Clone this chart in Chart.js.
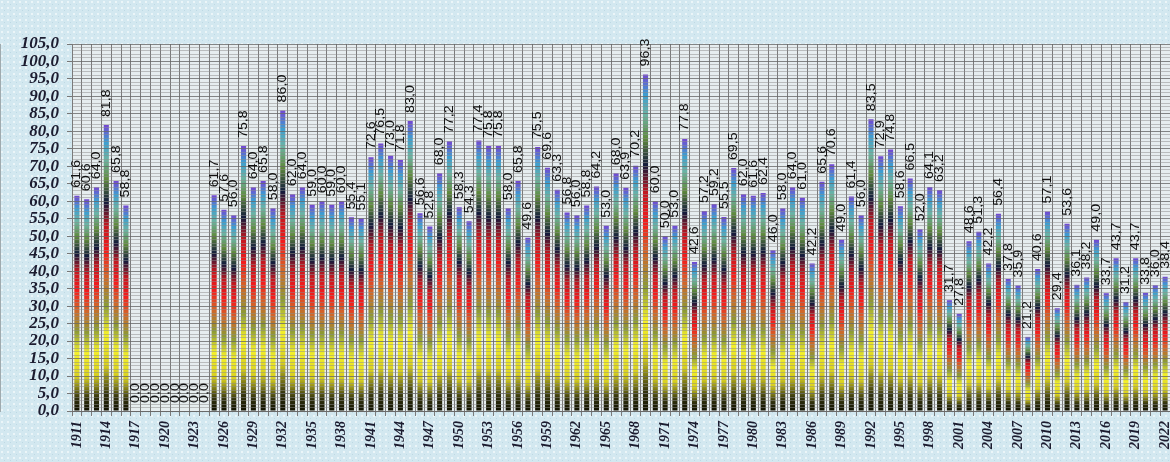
<!DOCTYPE html>
<html><head><meta charset="utf-8">
<script src="https://cdn.jsdelivr.net/npm/chart.js@4.4.1/dist/chart.umd.min.js"></script>
<style>
html,body{margin:0;padding:0;overflow:hidden;background:#d4e9f1;}
#wrap{width:1190px;height:462px;}
</style></head><body>
<div id="wrap"><canvas id="c" width="1190" height="462"></canvas></div>
<script>
const years = [1911,1912,1913,1914,1915,1916,1917,1918,1919,1920,1921,1922,1923,1924,1925,1926,1927,1928,1929,1930,
1931,1932,1933,1934,1935,1936,1937,1938,1939,1940,1941,1942,1943,1944,1945,1946,1947,1948,1949,1950,
1951,1952,1953,1954,1955,1956,1957,1958,1959,1960,1961,1962,1963,1964,1965,1966,1967,1968,1969,1970,
1971,1972,1973,1974,1975,1976,1977,1978,1979,1980,1981,1982,1983,1984,1985,1986,1987,1988,1989,1990,
1991,1992,1993,1994,1995,1996,1997,1998,1999,2000,2001,2002,2003,2004,2005,2006,2007,2008,2009,2010,
2011,2012,2013,2014,2015,2016,2017,2018,2019,2020,2021,2022];

const values = [61.6,60.6,64.0,81.8,65.8,58.8,0,0,0,0,0,0,0,0,61.7,57.6,56.0,75.8,64.0,65.8,
58.0,86.0,62.0,64.0,59.0,60.0,59.0,60.0,55.4,55.1,72.6,76.5,73.0,71.8,83.0,56.6,52.8,68.0,77.2,58.3,
54.3,77.4,75.8,75.8,58.0,65.8,49.6,75.5,69.6,63.3,56.8,56.0,58.8,64.2,53.0,68.0,63.9,70.2,96.3,60.0,
50.0,53.0,77.8,42.6,57.2,59.2,55.5,69.5,62.0,61.6,62.4,46.0,58.0,64.0,61.0,42.2,65.6,70.6,49.0,61.4,
56.0,83.5,72.9,74.8,58.6,66.5,52.0,64.1,63.2,31.7,27.8,48.6,51.3,42.2,56.4,37.8,35.9,21.2,40.6,57.1,
29.4,53.6,36.1,38.2,49.0,33.7,43.7,31.2,43.7,33.8,36.0,38.4];

const yMin = 0, yMax = 105, yStep = 1, yLabelEvery = 5, xLabelEvery = 3;

const fmt = v => v.toFixed(1).replace('.', ',');

const gradStops = [
  [0.00,'#101000'],[0.06,'#34340e'],[0.16,'#d8d020'],[0.27,'#f4f02a'],
  [0.37,'#8c9a34'],[0.47,'#d2662a'],[0.56,'#f41c1c'],[0.65,'#c21820'],
  [0.73,'#121a3c'],[0.81,'#5f8a3c'],[0.88,'#6cb4a4'],[0.94,'#3c9ed2'],[1.00,'#7446d2']
];

const bgPlugin = {
  id:'bg',
  beforeDraw(chart){
    const {ctx, chartArea:a, width, height} = chart;
    ctx.save();
    ctx.fillStyle = '#d3e8f0';
    ctx.fillRect(0,0,width,height);
    const p = document.createElement('canvas'); p.width = 6; p.height = 6;
    const pc = p.getContext('2d');
    pc.fillStyle = 'rgba(255,255,255,0.55)'; pc.fillRect(1,1,2,2);
    pc.fillStyle = 'rgba(150,190,205,0.35)'; pc.fillRect(4,4,1,1);
    ctx.fillStyle = ctx.createPattern(p,'repeat');
    ctx.fillRect(0,0,width,height);
    ctx.fillStyle = '#e6edef';
    ctx.fillRect(a.left,a.top,a.right-a.left,a.bottom-a.top);
    ctx.restore();
  }
};

const labelPlugin = {
  id:'vlabels',
  afterDraw(chart){
    const {ctx} = chart;
    const meta = chart.getDatasetMeta(0);
    ctx.save();
    ctx.font = '13px "Liberation Sans", Arial, sans-serif';
    ctx.fillStyle = '#101010';
    ctx.textAlign = 'left';
    ctx.textBaseline = 'middle';
    meta.data.forEach((bar,i)=>{
      ctx.save();
      ctx.translate(bar.x, bar.y - 8);
      ctx.rotate(-Math.PI/2);
      ctx.scale(1.1,1);
      ctx.fillText(fmt(values[i]),0,0);
      ctx.restore();
    });
    ctx.restore();
  }
};

new Chart(document.getElementById('c'), {
  type:'bar',
  data:{
    labels: years.map(String),
    datasets:[{
      data: values,
      barPercentage: 0.52,
      categoryPercentage: 1.0,
      borderWidth: 0,
      backgroundColor(c){
        const chart = c.chart;
        const sy = chart.scales && chart.scales.y;
        const v = c.raw;
        if(!sy || !v) return 'rgba(0,0,0,0)';
        const y0 = sy.getPixelForValue(0), y1 = sy.getPixelForValue(v);
        if(!isFinite(y0) || !isFinite(y1) || y0 === y1) return '#f2ee2a';
        const g = chart.ctx.createLinearGradient(0,y0,0,y1);
        gradStops.forEach(([o,col])=>g.addColorStop(o,col));
        return g;
      }
    }]
  },
  options:{
    responsive:false,
    animation:false,
    events:[],
    layout:{padding:{top:44,right:20,left:0,bottom:0}},
    plugins:{legend:{display:false},tooltip:{enabled:false},title:{display:false}},
    scales:{
      x:{
        offset:true,
        grid:{offset:true,color:'#7a7a7a',lineWidth:1,tickLength:5,tickColor:'#7a7a7a'},
        border:{color:'#6e6e6e'},
        ticks:{
          autoSkip:false,maxRotation:90,minRotation:90,padding:5,
          color:'#1c1c30',
          font:{family:'"Liberation Serif", "DejaVu Serif", serif',style:'italic',weight:'bold',size:14},
          callback:(val,i)=> (i % xLabelEvery === 0 ? String(years[i]) : '')
        },
        afterFit(s){ s.height = 51; }
      },
      y:{
        min:yMin,max:yMax,
        grid:{
          z:1,
          color:c=> (c.tick && Math.round(c.tick.value) % yLabelEvery === 0) ? 'rgba(105,105,105,0.8)' : 'rgba(140,140,140,0.5)',
          lineWidth:1,tickLength:5,
          tickColor:c=> (c.tick && Math.round(c.tick.value) % yLabelEvery === 0) ? '#777' : 'rgba(0,0,0,0)'
        },
        border:{color:'#6e6e6e'},
        ticks:{
          stepSize:yStep,autoSkip:false,padding:8,
          color:'#1c1c30',
          font:{family:'"Liberation Serif", "DejaVu Serif", serif',style:'italic',weight:'bold',size:17},
          callback:v=> (Math.round(v) % yLabelEvery === 0 ? fmt(v) : '')
        },
        afterFit(s){ s.width = 72; }
      }
    }
  },
  plugins:[bgPlugin,labelPlugin]
});
</script>
</body></html>
